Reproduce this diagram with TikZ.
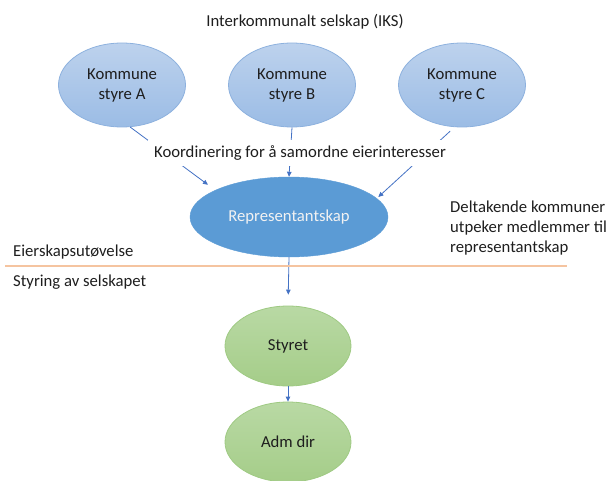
\documentclass[tikz,border=0pt]{standalone}
\usepackage{fontspec}
\setmainfont{Carlito}
\usetikzlibrary{shapes.geometric,arrows.meta,positioning}

\definecolor{ktop}{HTML}{BDD2ED}
\definecolor{kbot}{HTML}{9BBCE5}
\definecolor{kline}{HTML}{8DB1DE}
\definecolor{repfill}{HTML}{5B9BD5}
\definecolor{gtop}{HTML}{B9D9A4}
\definecolor{gbot}{HTML}{A5CD89}
\definecolor{gline}{HTML}{9FCA83}
\definecolor{arrowc}{HTML}{4472C4}
\definecolor{divider}{HTML}{F5C4A0}
\definecolor{txt}{HTML}{1E1E1E}

\begin{document}
\begin{tikzpicture}[
  x=1pt, y=-1pt,
  font=\fontsize{16.7}{20}\selectfont,
  text=txt,
  >={Triangle[length=5pt,width=4.5pt]},
  kommune/.style={ellipse, draw=kline, line width=0.8pt, top color=ktop, bottom color=kbot,
                  align=center, minimum width=127pt, minimum height=84pt},
  repr/.style={ellipse, draw=repfill, fill=repfill, text=white!95!black,
               minimum width=198pt, minimum height=80pt},
  organ/.style={ellipse, draw=gline, line width=0.8pt, top color=gtop, bottom color=gbot,
                minimum width=126pt, minimum height=80pt},
  conn/.style={->, line width=0.8pt, draw=arrowc},
  note/.style={align=left, anchor=west, inner sep=0pt},
]

\def\ax{122} \def\bx{292} \def\cx{462}
\def\mx{289}

\useasboundingbox (0,0) rectangle (610,481);

% title
\node (title) at (305,22) {Interkommunalt selskap (IKS)};

% municipal councils
\node[kommune] (kA) at (\ax,85) {Kommune\\styre A};
\node[kommune] (kB) at (\bx,85) {Kommune\\styre B};
\node[kommune] (kC) at (\cx,85) {Kommune\\styre C};

% owners' body
\node[repr] (rep) at (\mx,217) {Representantskap};

% company bodies
\node[organ] (styret) at (288,346) {Styret};
\node[organ] (adm)    at (288,442) {Adm dir};

% coordination arrows
\draw[conn, shorten >=9pt] (kA.-79) -- (rep.160);
\draw[conn] (kB.south) -- (rep.north);
\draw[conn, shorten <=6pt, shorten >=2pt] (kC.-100) -- (rep.12);
\node[fill=white, inner sep=6pt] (koord) at (300,153) {Koordinering for å samordne eierinteresser};

% chain of command
\draw[conn, shorten >=11pt] (rep.south) -- (styret.north);
\draw[conn] (styret.south) -- (adm.north);

% divider and side notes
\coordinate (divL) at (5,266);
\coordinate (divR) at (567,266);
\draw[divider, line width=1.2pt] (divL) -- (divR);
\node[note] (eier)  at (13,252) {Eierskapsutøvelse};
\node[note] (styr)  at (13,282) {Styring av selskapet};
\node[note] (delta) at (450,228) {Deltakende kommuner\\utpeker medlemmer til\\representantskap};

\end{tikzpicture}
\end{document}
